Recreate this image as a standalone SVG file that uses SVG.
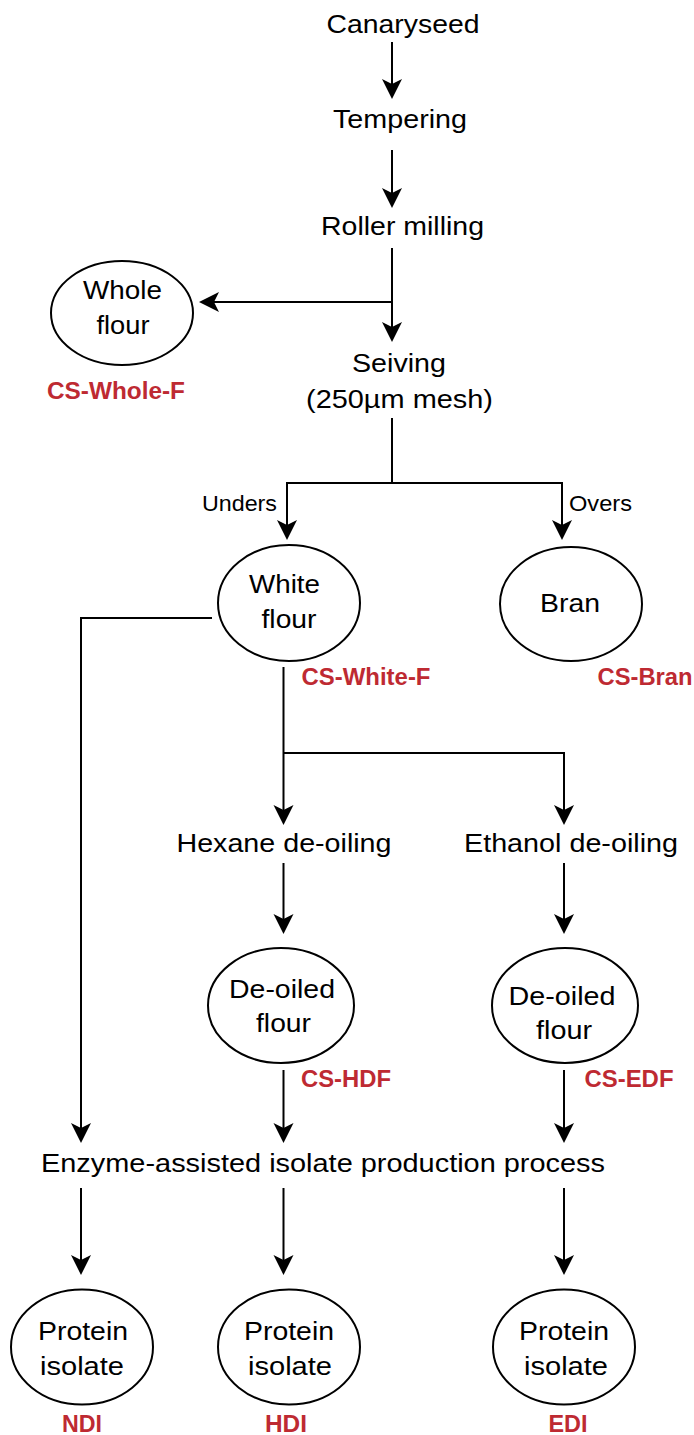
<svg xmlns="http://www.w3.org/2000/svg" width="694" height="1435" viewBox="0 0 694 1435">
<defs>
<style>
.t{font-family:"Liberation Sans",Arial,sans-serif;font-size:26.5px;fill:#000;text-anchor:middle}
.s{font-family:"Liberation Sans",Arial,sans-serif;font-size:22px;fill:#000}
.r{font-family:"Liberation Sans",Arial,sans-serif;font-size:23.5px;font-weight:bold;fill:#BE2A32;text-anchor:middle}
.e{fill:#fff;stroke:#000;stroke-width:2}
.c path{fill:none;stroke:#000;stroke-width:2}
.a{marker-end:url(#ah)}
</style>
<marker id="ah" markerUnits="userSpaceOnUse" markerWidth="22" markerHeight="22" refX="14" refY="10" orient="auto">
<path d="M0,0 L20,10 L0,20 L5,10 Z" fill="#000"/>
</marker>
</defs>
<rect width="694" height="1435" fill="#fff"/>
<g id="connectors" class="c">
<path class="a" d="M392,42 V93"/>
<path class="a" d="M392,150 V202"/>
<path class="a" d="M392,248 V336"/>
<path class="a" d="M392,302 H205"/>
<path d="M392,418 V483"/>
<path class="a" d="M392,483 H287 V534"/>
<path class="a" d="M392,483 H562 V534"/>
<path class="a" d="M212,618 H81 V1137"/>
<path d="M283.5,667 V753"/>
<path class="a" d="M283.5,753 V819"/>
<path class="a" d="M283.5,753 H564 V819"/>
<path class="a" d="M283.5,863 V928"/>
<path class="a" d="M564,863 V928"/>
<path class="a" d="M283.5,1070 V1137"/>
<path class="a" d="M564,1070 V1137"/>
<path class="a" d="M81,1188 V1269"/>
<path class="a" d="M283.5,1188 V1269"/>
<path class="a" d="M564,1188 V1269"/>
</g>
<g id="canaryseed"><text class="t" x="403" y="33" textLength="153" lengthAdjust="spacingAndGlyphs">Canaryseed</text></g>
<g id="tempering"><text class="t" x="400" y="128" textLength="134" lengthAdjust="spacingAndGlyphs">Tempering</text></g>
<g id="roller-milling"><text class="t" x="402.5" y="235" textLength="163" lengthAdjust="spacingAndGlyphs">Roller milling</text></g>
<g id="whole-flour">
<ellipse class="e" cx="122" cy="313" rx="71" ry="52"/>
<text class="t" x="122.5" y="299" textLength="79" lengthAdjust="spacingAndGlyphs">Whole</text>
<text class="t" x="123" y="334" textLength="53" lengthAdjust="spacingAndGlyphs">flour</text>
<text class="r" x="116" y="399" textLength="138" lengthAdjust="spacingAndGlyphs">CS-Whole-F</text>
</g>
<g id="seiving">
<text class="t" x="399" y="372" textLength="94" lengthAdjust="spacingAndGlyphs">Seiving</text>
<text class="t" x="399.5" y="408" textLength="187" lengthAdjust="spacingAndGlyphs">(250µm mesh)</text>
</g>
<g id="labels">
<text class="s" x="277" y="511" text-anchor="end" textLength="75" lengthAdjust="spacingAndGlyphs">Unders</text>
<text class="s" x="569" y="511" textLength="63" lengthAdjust="spacingAndGlyphs">Overs</text>
</g>
<g id="white-flour">
<ellipse class="e" cx="289" cy="603" rx="71" ry="58"/>
<text class="t" x="284.5" y="593" textLength="71" lengthAdjust="spacingAndGlyphs">White</text>
<text class="t" x="289" y="628" textLength="55" lengthAdjust="spacingAndGlyphs">flour</text>
<text class="r" x="366" y="685" textLength="129" lengthAdjust="spacingAndGlyphs">CS-White-F</text>
</g>
<g id="bran">
<ellipse class="e" cx="571" cy="604" rx="71" ry="57"/>
<text class="t" x="570" y="612" textLength="60" lengthAdjust="spacingAndGlyphs">Bran</text>
<text class="r" x="645" y="685" textLength="95" lengthAdjust="spacingAndGlyphs">CS-Bran</text>
</g>
<g id="hexane"><text class="t" x="284" y="852" textLength="215" lengthAdjust="spacingAndGlyphs">Hexane de-oiling</text></g>
<g id="ethanol"><text class="t" x="571" y="852" textLength="214" lengthAdjust="spacingAndGlyphs">Ethanol de-oiling</text></g>
<g id="hdf">
<ellipse class="e" cx="281" cy="1005.5" rx="73" ry="57.5"/>
<text class="t" x="282" y="998" textLength="106" lengthAdjust="spacingAndGlyphs">De-oiled</text>
<text class="t" x="283.5" y="1032" textLength="55" lengthAdjust="spacingAndGlyphs">flour</text>
<text class="r" x="346" y="1087" textLength="90" lengthAdjust="spacingAndGlyphs">CS-HDF</text>
</g>
<g id="edf">
<ellipse class="e" cx="565" cy="1005.5" rx="73" ry="57.5"/>
<text class="t" x="562" y="1005" textLength="107" lengthAdjust="spacingAndGlyphs">De-oiled</text>
<text class="t" x="564" y="1039" textLength="56" lengthAdjust="spacingAndGlyphs">flour</text>
<text class="r" x="629" y="1087" textLength="89" lengthAdjust="spacingAndGlyphs">CS-EDF</text>
</g>
<g id="enzyme"><text class="t" x="323" y="1172" textLength="564" lengthAdjust="spacingAndGlyphs">Enzyme-assisted isolate production process</text></g>
<g id="ndi">
<ellipse class="e" cx="82" cy="1347" rx="71" ry="57.5"/>
<text class="t" x="83" y="1340" textLength="90" lengthAdjust="spacingAndGlyphs">Protein</text>
<text class="t" x="82" y="1375" textLength="84" lengthAdjust="spacingAndGlyphs">isolate</text>
<text class="r" x="82" y="1432" textLength="40" lengthAdjust="spacingAndGlyphs">NDI</text>
</g>
<g id="hdi">
<ellipse class="e" cx="289" cy="1347" rx="71" ry="57.5"/>
<text class="t" x="289" y="1340" textLength="90" lengthAdjust="spacingAndGlyphs">Protein</text>
<text class="t" x="290" y="1375" textLength="84" lengthAdjust="spacingAndGlyphs">isolate</text>
<text class="r" x="286" y="1432" textLength="42" lengthAdjust="spacingAndGlyphs">HDI</text>
</g>
<g id="edi">
<ellipse class="e" cx="564" cy="1347" rx="71" ry="57.5"/>
<text class="t" x="564" y="1340" textLength="90" lengthAdjust="spacingAndGlyphs">Protein</text>
<text class="t" x="566" y="1375" textLength="84" lengthAdjust="spacingAndGlyphs">isolate</text>
<text class="r" x="568" y="1432" textLength="39" lengthAdjust="spacingAndGlyphs">EDI</text>
</g>
</svg>
